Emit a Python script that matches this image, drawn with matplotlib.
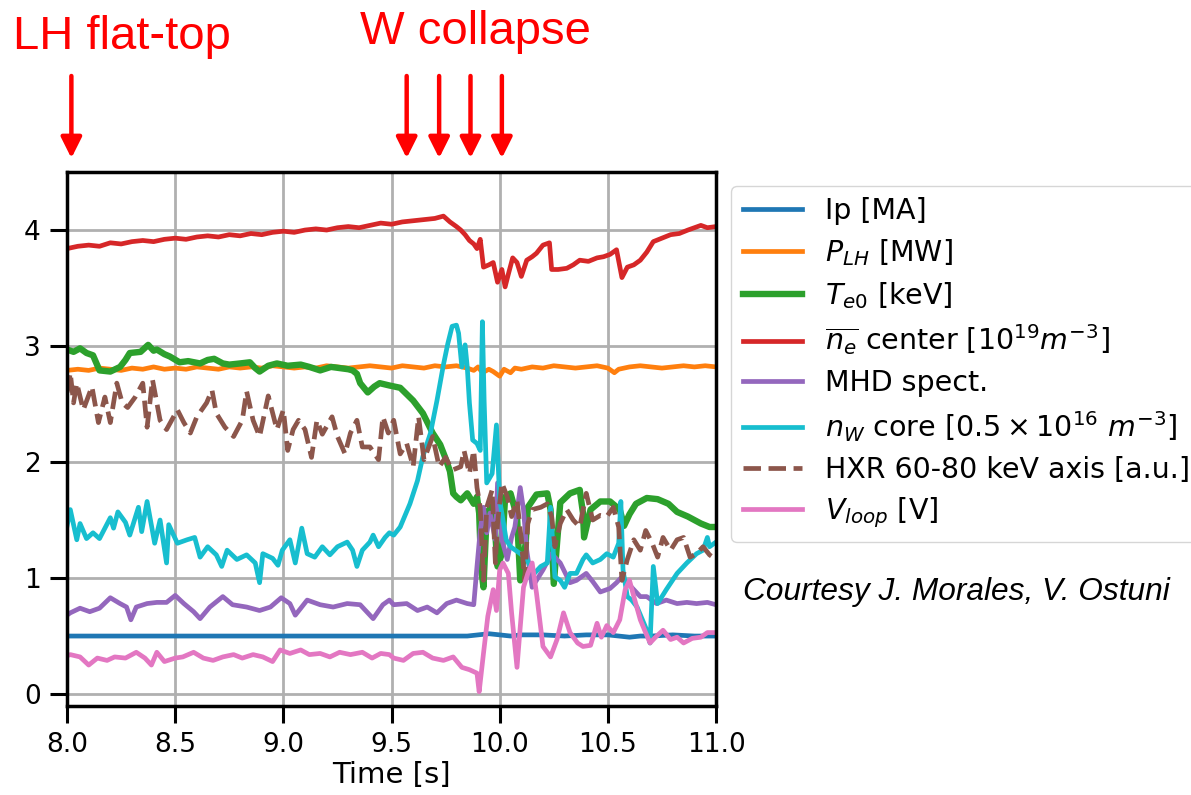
import numpy as np
import matplotlib
matplotlib.use('Agg')
import matplotlib.pyplot as plt

# --- data (time [s], value) ---
ip = [(8.0, 0.50), (8.5, 0.50), (9.0, 0.50), (9.5, 0.50), (9.85, 0.50), (9.9, 0.51),
      (9.95, 0.52), (10.0, 0.51), (10.05, 0.50), (10.1, 0.51), (10.2, 0.51), (10.3, 0.50),
      (10.4, 0.51), (10.5, 0.51), (10.55, 0.50), (10.6, 0.49), (10.65, 0.50), (10.7, 0.50),
      (10.8, 0.51), (10.9, 0.50), (11.0, 0.50)]

t_plh = [8.0, 8.05, 8.1, 8.15, 8.2, 8.25, 8.3, 8.35, 8.4, 8.45,
         8.5, 8.55, 8.6, 8.65, 8.7, 8.75, 8.8, 8.85, 8.9, 8.95,
         9.0, 9.05, 9.1, 9.15, 9.2, 9.25, 9.3, 9.35, 9.4, 9.45,
         9.5, 9.55, 9.6, 9.65, 9.7, 9.75, 9.8, 9.85,
         9.88, 9.9, 9.92, 9.95, 9.97, 10.0, 10.02, 10.05, 10.07, 10.1,
         10.15, 10.2, 10.25, 10.3, 10.35, 10.4, 10.45, 10.5,
         10.53, 10.55,
         10.6, 10.65, 10.7, 10.75, 10.8, 10.85, 10.9, 10.95, 11.0]
plh = [2.79, 2.80, 2.79, 2.81, 2.80, 2.79, 2.81, 2.80, 2.82, 2.80,
       2.81, 2.80, 2.82, 2.81, 2.80, 2.82, 2.81, 2.82, 2.81, 2.83,
       2.82, 2.81, 2.82, 2.81, 2.83, 2.82, 2.81, 2.82, 2.83, 2.82,
       2.81, 2.83, 2.82, 2.81, 2.83, 2.82, 2.83, 2.81,
       2.79, 2.82, 2.77, 2.80, 2.78, 2.74, 2.80, 2.77, 2.81, 2.80,
       2.82, 2.81, 2.83, 2.82, 2.81, 2.82, 2.83, 2.81,
       2.77, 2.80,
       2.82, 2.83, 2.82, 2.81, 2.82, 2.83, 2.82, 2.83, 2.82]

te0 = [(8.00, 2.97), (8.03, 2.95), (8.06, 2.98), (8.09, 2.94), (8.12, 2.92), (8.15, 2.79),
       (8.20, 2.78), (8.245, 2.82), (8.27, 2.88), (8.29, 2.94), (8.34, 2.95), (8.375, 3.01),
       (8.40, 2.96), (8.415, 2.97), (8.45, 2.93), (8.475, 2.91), (8.52, 2.86), (8.56, 2.87),
       (8.615, 2.85), (8.65, 2.88), (8.68, 2.89), (8.72, 2.85), (8.75, 2.84), (8.80, 2.85),
       (8.845, 2.86), (8.87, 2.81), (8.89, 2.78), (8.93, 2.83), (8.97, 2.85), (9.02, 2.83),
       (9.08, 2.84), (9.12, 2.82), (9.17, 2.79), (9.22, 2.82), (9.26, 2.81), (9.30, 2.80),
       (9.32, 2.79), (9.34, 2.76), (9.355, 2.68), (9.39, 2.60), (9.42, 2.65), (9.445, 2.68),
       (9.49, 2.66), (9.54, 2.64), (9.60, 2.53), (9.645, 2.42), (9.69, 2.25), (9.725, 2.15),
       (9.75, 2.03), (9.77, 1.92), (9.785, 1.73), (9.80, 1.70), (9.82, 1.67), (9.85, 1.73),
       (9.88, 1.64), (9.895, 1.70), (9.905, 1.56), (9.915, 1.07), (9.925, 0.92), (9.94, 1.56),
       (9.97, 1.64), (9.99, 1.10), (10.01, 1.21), (10.025, 1.70), (10.05, 1.73), (10.08, 1.53),
       (10.095, 0.98), (10.12, 1.30), (10.13, 1.61), (10.17, 1.72), (10.22, 1.73), (10.235, 1.59),
       (10.25, 0.95), (10.28, 1.65), (10.325, 1.73), (10.37, 1.76), (10.385, 1.56), (10.39, 1.35),
       (10.42, 1.59), (10.465, 1.66), (10.51, 1.66), (10.555, 1.59), (10.575, 1.45), (10.60, 1.55),
       (10.63, 1.64), (10.68, 1.69), (10.73, 1.68), (10.78, 1.64), (10.82, 1.57), (10.87, 1.53),
       (10.93, 1.47), (10.97, 1.44), (11.0, 1.44)]

ne = [(8.00, 3.84), (8.05, 3.86), (8.10, 3.87), (8.15, 3.86), (8.20, 3.89), (8.25, 3.88),
      (8.30, 3.90), (8.35, 3.91), (8.40, 3.90), (8.45, 3.92), (8.50, 3.93), (8.55, 3.92),
      (8.60, 3.94), (8.65, 3.95), (8.70, 3.94), (8.75, 3.96), (8.80, 3.95), (8.85, 3.97),
      (8.90, 3.96), (8.95, 3.98), (9.00, 3.99), (9.05, 3.98), (9.10, 4.00), (9.15, 4.01),
      (9.20, 4.00), (9.25, 4.02), (9.30, 4.03), (9.35, 4.02), (9.40, 4.04), (9.45, 4.06),
      (9.50, 4.05), (9.55, 4.07), (9.60, 4.08), (9.65, 4.09), (9.70, 4.10), (9.74, 4.12),
      (9.77, 4.07), (9.80, 4.03), (9.82, 4.00), (9.84, 3.96), (9.86, 3.91), (9.88, 3.88),
      (9.895, 3.84), (9.91, 3.92), (9.925, 3.68), (9.95, 3.70), (9.97, 3.72), (9.99, 3.55),
      (10.01, 3.66), (10.025, 3.51), (10.04, 3.62), (10.06, 3.76), (10.08, 3.72), (10.10, 3.60),
      (10.125, 3.74), (10.15, 3.77), (10.17, 3.80), (10.20, 3.87), (10.23, 3.89), (10.24, 3.66),
      (10.27, 3.66), (10.31, 3.67), (10.34, 3.70), (10.37, 3.74), (10.41, 3.73), (10.45, 3.76),
      (10.48, 3.77), (10.51, 3.79), (10.54, 3.83), (10.565, 3.59), (10.59, 3.68), (10.62, 3.70),
      (10.65, 3.74), (10.68, 3.81), (10.71, 3.90), (10.75, 3.93), (10.79, 3.96), (10.83, 3.97),
      (10.87, 4.00), (10.90, 4.02), (10.93, 4.04), (10.96, 4.02), (11.0, 4.03)]

mhd = [(8.00, 0.68), (8.015, 0.70), (8.06, 0.74), (8.105, 0.71), (8.15, 0.74), (8.20, 0.83),
       (8.245, 0.78), (8.275, 0.75), (8.295, 0.64), (8.32, 0.75), (8.37, 0.78), (8.415, 0.79),
       (8.46, 0.79), (8.50, 0.85), (8.54, 0.78), (8.585, 0.71), (8.615, 0.65), (8.66, 0.75),
       (8.72, 0.84), (8.765, 0.77), (8.83, 0.75), (8.89, 0.72), (8.94, 0.75), (8.99, 0.83),
       (9.03, 0.78), (9.055, 0.68), (9.11, 0.81), (9.17, 0.77), (9.23, 0.75), (9.295, 0.78),
       (9.355, 0.77), (9.415, 0.65), (9.46, 0.77), (9.49, 0.81), (9.51, 0.77), (9.57, 0.78),
       (9.62, 0.72), (9.665, 0.75), (9.71, 0.70), (9.755, 0.78), (9.80, 0.81), (9.85, 0.78),
       (9.88, 0.77), (9.895, 1.10), (9.91, 1.41), (9.925, 1.61), (9.94, 1.39), (9.955, 1.56),
       (9.98, 1.33), (9.99, 1.82), (10.01, 1.33), (10.035, 1.16), (10.055, 1.35), (10.07, 1.44),
       (10.095, 1.78), (10.11, 1.59), (10.125, 1.24), (10.15, 0.92), (10.17, 0.98), (10.20, 1.07),
       (10.24, 1.21), (10.28, 1.13), (10.325, 0.96), (10.355, 0.98), (10.40, 1.04), (10.43, 0.97),
       (10.465, 0.88), (10.51, 0.91), (10.54, 0.96), (10.565, 1.01), (10.59, 0.96), (10.62, 0.90),
       (10.65, 0.84), (10.68, 0.84), (10.725, 0.78), (10.77, 0.81), (10.82, 0.78), (10.865, 0.79),
       (10.91, 0.78), (10.96, 0.79), (11.0, 0.77)]

nw = [(8.00, 1.45), (8.015, 1.59), (8.045, 1.33), (8.06, 1.47), (8.09, 1.34), (8.12, 1.39),
      (8.15, 1.34), (8.20, 1.52), (8.215, 1.43), (8.235, 1.57), (8.27, 1.48), (8.29, 1.37),
      (8.33, 1.61), (8.345, 1.40), (8.37, 1.66), (8.405, 1.30), (8.43, 1.50), (8.46, 1.13),
      (8.47, 1.46), (8.51, 1.30), (8.555, 1.33), (8.59, 1.35), (8.615, 1.18), (8.65, 1.27),
      (8.69, 1.20), (8.715, 1.10), (8.74, 1.24), (8.785, 1.16), (8.83, 1.20), (8.87, 1.13),
      (8.89, 0.96), (8.905, 1.21), (8.95, 1.17), (8.975, 1.11), (8.995, 1.24), (9.03, 1.33),
      (9.055, 1.13), (9.085, 1.43), (9.11, 1.21), (9.145, 1.18), (9.18, 1.27), (9.215, 1.20),
      (9.25, 1.27), (9.295, 1.31), (9.32, 1.24), (9.34, 1.10), (9.365, 1.24), (9.40, 1.31),
      (9.415, 1.37), (9.44, 1.27), (9.47, 1.35), (9.49, 1.39), (9.51, 1.37), (9.54, 1.44),
      (9.585, 1.64), (9.62, 1.84), (9.645, 2.05), (9.68, 2.25), (9.71, 2.53), (9.74, 2.84),
      (9.76, 3.02), (9.78, 3.17), (9.80, 3.18), (9.81, 3.11), (9.825, 2.82), (9.84, 3.01),
      (9.85, 2.82), (9.86, 2.51), (9.875, 2.19), (9.895, 2.16), (9.91, 2.10), (9.92, 3.21),
      (9.928, 2.53), (9.94, 1.82), (9.965, 1.90), (9.985, 2.32), (10.0, 1.67), (10.01, 1.56),
      (10.03, 1.33), (10.05, 1.27), (10.095, 1.21), (10.125, 1.16), (10.16, 1.04), (10.19, 1.10),
      (10.22, 1.13), (10.235, 1.61), (10.255, 1.01), (10.28, 0.98), (10.30, 0.92), (10.325, 1.04),
      (10.355, 1.04), (10.385, 1.16), (10.40, 1.20), (10.43, 1.13), (10.465, 1.16), (10.495, 1.21),
      (10.525, 1.18), (10.55, 1.30), (10.56, 1.66), (10.57, 1.07), (10.59, 0.84), (10.61, 0.81),
      (10.635, 0.75), (10.68, 0.55), (10.695, 0.44), (10.71, 1.10), (10.73, 0.78), (10.77, 0.90),
      (10.82, 1.04), (10.865, 1.13), (10.91, 1.21), (10.94, 1.24), (10.96, 1.35), (10.97, 1.27),
      (11.0, 1.31)]

hxr = [(8.00, 2.60), (8.015, 2.77), (8.03, 2.51), (8.045, 2.68), (8.075, 2.45), (8.115, 2.65),
       (8.145, 2.34), (8.175, 2.56), (8.20, 2.34), (8.23, 2.68), (8.255, 2.51), (8.28, 2.47),
       (8.315, 2.56), (8.35, 2.68), (8.37, 2.30), (8.395, 2.71), (8.43, 2.36), (8.46, 2.28),
       (8.51, 2.45), (8.54, 2.34), (8.57, 2.25), (8.60, 2.39), (8.645, 2.51), (8.67, 2.62),
       (8.69, 2.42), (8.73, 2.30), (8.77, 2.22), (8.81, 2.36), (8.83, 2.61), (8.86, 2.36),
       (8.89, 2.22), (8.93, 2.57), (8.97, 2.28), (9.00, 2.45), (9.02, 2.10), (9.045, 2.28),
       (9.07, 2.36), (9.10, 2.28), (9.13, 2.04), (9.155, 2.36), (9.18, 2.24), (9.225, 2.39),
       (9.25, 2.22), (9.285, 2.07), (9.31, 2.25), (9.34, 2.36), (9.365, 2.13), (9.40, 2.13),
       (9.44, 2.02), (9.46, 2.39), (9.485, 2.25), (9.51, 2.36), (9.54, 2.07), (9.57, 2.16),
       (9.60, 1.96), (9.625, 2.39), (9.65, 2.02), (9.69, 2.22), (9.72, 1.96), (9.75, 2.04),
       (9.78, 1.93), (9.82, 1.96), (9.835, 2.10), (9.86, 1.90), (9.88, 2.10), (9.895, 1.78),
       (9.91, 1.61), (9.925, 0.98), (9.94, 1.61), (9.965, 1.76), (9.98, 1.13), (9.99, 1.47),
       (10.01, 1.82), (10.035, 1.70), (10.055, 1.53), (10.08, 1.67), (10.10, 1.33), (10.115, 0.98),
       (10.13, 1.47), (10.15, 1.59), (10.19, 1.61), (10.22, 1.64), (10.24, 1.53), (10.255, 1.27),
       (10.28, 1.47), (10.31, 1.59), (10.34, 1.50), (10.37, 1.44), (10.40, 1.73), (10.43, 1.50),
       (10.465, 1.54), (10.495, 1.53), (10.525, 1.61), (10.55, 1.44), (10.565, 0.98), (10.59, 1.16),
       (10.62, 1.33), (10.65, 1.24), (10.675, 1.41), (10.705, 1.30), (10.73, 1.18), (10.755, 1.35),
       (10.79, 1.24), (10.82, 1.33), (10.85, 1.35), (10.88, 1.18), (10.91, 1.21), (10.94, 1.27),
       (10.97, 1.20), (11.0, 1.16)]

vloop = [(8.00, 0.33), (8.015, 0.34), (8.06, 0.32), (8.10, 0.25), (8.14, 0.31), (8.185, 0.29),
         (8.22, 0.32), (8.27, 0.31), (8.32, 0.36), (8.36, 0.31), (8.39, 0.25), (8.415, 0.36),
         (8.45, 0.28), (8.50, 0.31), (8.535, 0.32), (8.585, 0.36), (8.63, 0.31), (8.675, 0.29),
         (8.72, 0.32), (8.77, 0.34), (8.81, 0.31), (8.86, 0.34), (8.905, 0.32), (8.95, 0.28),
         (8.985, 0.38), (9.03, 0.35), (9.08, 0.38), (9.12, 0.34), (9.17, 0.35), (9.215, 0.32),
         (9.26, 0.36), (9.31, 0.34), (9.365, 0.36), (9.41, 0.31), (9.45, 0.35), (9.49, 0.34),
         (9.51, 0.31), (9.555, 0.29), (9.60, 0.35), (9.645, 0.36), (9.69, 0.31), (9.74, 0.29),
         (9.785, 0.32), (9.825, 0.23), (9.86, 0.21), (9.895, 0.18), (9.905, 0.02), (9.925, 0.35),
         (9.945, 0.67), (9.97, 0.90), (9.985, 0.72), (10.0, 1.07), (10.015, 1.13), (10.04, 1.04),
         (10.055, 0.70), (10.08, 0.23), (10.095, 0.58), (10.11, 0.92), (10.13, 1.04), (10.15, 1.13),
         (10.17, 0.87), (10.20, 0.41), (10.235, 0.32), (10.265, 0.47), (10.295, 0.70), (10.325, 0.53),
         (10.36, 0.44), (10.385, 0.41), (10.42, 0.42), (10.45, 0.61), (10.47, 0.49), (10.495, 0.59),
         (10.525, 0.53), (10.555, 0.64), (10.58, 0.90), (10.60, 0.98), (10.62, 0.84), (10.65, 0.64),
         (10.67, 0.55), (10.695, 0.44), (10.72, 0.49), (10.755, 0.55), (10.79, 0.47), (10.82, 0.49),
         (10.85, 0.44), (10.89, 0.48), (10.93, 0.49), (10.96, 0.53), (11.0, 0.53)]

# event markers on top
lh_time = [8.02]
collapse_times = [9.57, 9.72, 9.865, 10.01]

labels = ['Ip [MA]', r'$P_{LH}$ [MW]', r'$T_{e0}$ [keV]',
          r'$\overline{n_e}$ center [$10^{19}m^{-3}$]', 'MHD spect.',
          r'$n_W$ core [$0.5 \times 10^{16}\ m^{-3}$]',
          'HXR 60-80 keV axis [a.u.]', r'$V_{loop}$ [V]']


def xy(pairs):
    a = np.array(pairs)
    return a[:, 0], a[:, 1]


fig = plt.figure(figsize=(11.91, 7.95), dpi=100)
ax = fig.add_axes([0.0563, 0.1124, 0.5449, 0.6712])

lw = 3.4
ax.plot(*xy(ip), color='C0', lw=lw, label=labels[0])
ax.plot(t_plh, plh, color='C1', lw=lw, label=labels[1])
ax.plot(*xy(te0), color='C2', lw=4.6, label=labels[2])
ax.plot(*xy(ne), color='C3', lw=lw, label=labels[3])
ax.plot(*xy(mhd), color='C4', lw=lw, label=labels[4])
ax.plot(*xy(nw), color='C9', lw=lw, label=labels[5])
ax.plot(*xy(hxr), color='C5', lw=lw, ls='--', label=labels[6])
ax.plot(*xy(vloop), color='C6', lw=lw, label=labels[7])

ax.set_xlim(8.0, 11.0)
ax.set_ylim(-0.1, 4.5)
ax.set_xticks(np.arange(8.0, 11.01, 0.5))
ax.set_yticks([0, 1, 2, 3, 4])
ax.grid(True, color='#b0b0b0', lw=2)
ax.set_axisbelow(True)
for s in ax.spines.values():
    s.set_linewidth(2.5)
ax.tick_params(length=12, width=2.2, labelsize=19, pad=7)
ax.set_xlabel('Time [s]', fontsize=21, labelpad=2)

fig.legend(loc='upper left', bbox_to_anchor=(0.614, 0.766), borderaxespad=0,
           fontsize=20.5, handlelength=2.1, labelspacing=0.42)

# red arrows + annotations
arrow_kw = dict(arrowstyle='-|>,head_length=0.5,head_width=0.25', color='#ff0000',
                lw=3.2, mutation_scale=25, shrinkA=0, shrinkB=0)
for t in lh_time + collapse_times:
    ax.annotate('', xy=(t, 1.026), xytext=(t, 1.18),
                xycoords=('data', 'axes fraction'), textcoords=('data', 'axes fraction'),
                arrowprops=arrow_kw, annotation_clip=False)

fig.text(0.102, 0.938, 'LH flat-top', color='#ff0000', fontsize=34,
         family='Liberation Sans', ha='center', va='baseline')
fig.text(0.399, 0.945, 'W collapse', color='#ff0000', fontsize=34,
         family='Liberation Sans', ha='center', va='baseline')
fig.text(0.624, 0.245, 'Courtesy J. Morales, V. Ostuni', fontsize=22.8,
         family='Liberation Sans', style='italic', ha='left', va='baseline')

fig.savefig('out.png', dpi=100)
